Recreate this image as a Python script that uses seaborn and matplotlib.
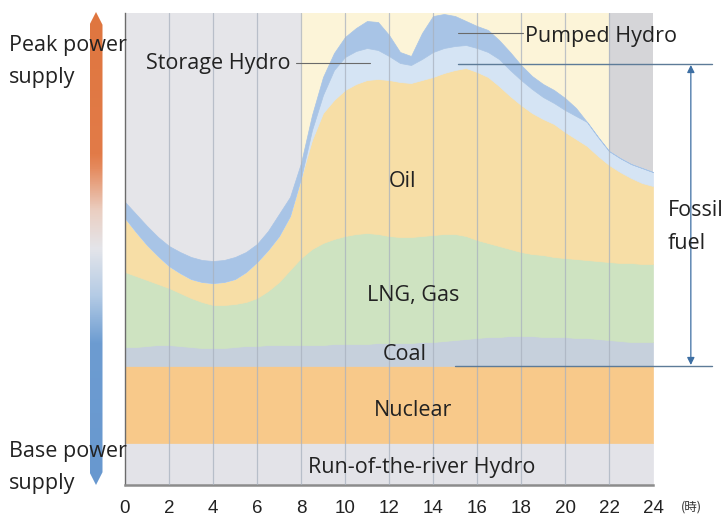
import numpy as np
import matplotlib
matplotlib.use("Agg")
import matplotlib.pyplot as plt
import seaborn as sns
from matplotlib.colors import LinearSegmentedColormap
from matplotlib.patches import Polygon

# ---------------- data (arbitrary output units, half-hour steps) ----------------
hours = np.arange(0, 24.01, 0.5)

run_of_river = [42, 42, 42, 42, 42, 42, 42, 42, 42, 42, 42, 42, 42, 42, 42, 42, 42,
                42, 42, 42, 42, 42, 42, 42, 42, 42, 42, 42, 42, 42, 42, 42, 42, 42,
                42, 42, 42, 42, 42, 42, 42, 42, 42, 42, 42, 42, 42, 42, 42]
nuclear = [77, 77, 77, 77, 77, 77, 77, 77, 77, 77, 77, 77, 77, 77, 77, 77, 77,
           77, 77, 77, 77, 77, 77, 77, 77, 77, 77, 77, 77, 77, 77, 77, 77, 77,
           77, 77, 77, 77, 77, 77, 77, 77, 77, 77, 77, 77, 77, 77, 77]
coal = [19, 19, 20, 21, 21, 20, 19, 18, 18, 18, 19, 20, 20, 21, 21, 21, 21,
        21, 21, 22, 22, 22, 22, 23, 23, 23, 23, 24, 24, 25, 26, 27, 28, 29,
        29, 30, 30, 30, 29, 29, 29, 28, 28, 27, 26, 25, 24, 24, 24]
lng_gas = [75, 71, 66, 61, 57, 53, 49, 46, 43, 43, 43, 44, 48, 54, 63, 75, 87,
           96, 102, 105, 108, 110, 111, 109, 107, 106, 106, 106, 107, 107, 106, 103, 98, 94,
           91, 87, 84, 82, 82, 80, 79, 79, 78, 78, 78, 78, 79, 78, 78]
oil = [54, 44, 35, 28, 22, 20, 19, 20, 22, 23, 25, 30, 36, 41, 46, 54, 80,
       109, 130, 139, 146, 150, 153, 155, 156, 155, 154, 156, 158, 161, 164, 168, 168, 166,
       160, 153, 147, 141, 136, 133, 126, 120, 114, 105, 97, 91, 85, 81, 78]
storage_hydro = [0, 0, 0, 0, 0, 0, 0, 0, 0, 0, 0, 0, 0, 0, 0, 0, 0,
                 10, 18, 30, 33, 33, 32, 29, 24, 19, 18, 21, 25, 25, 24, 23, 24, 25,
                 27, 26, 25, 24, 22, 21, 22, 23, 24, 19, 14, 14, 14, 15, 14]
pumped_hydro = [16, 18, 19, 19, 20, 21, 22, 22, 22, 22, 22, 20, 18, 19, 22, 19, 15,
                15, 18, 17, 20, 23, 27, 28, 21, 11, 9, 26, 36, 34, 30, 24, 22, 22,
                19, 18, 15, 13, 13, 13, 12, 8, 0, 0, 0, 0, 0, 0, 0]

layer_values = [run_of_river, nuclear, coal, lng_gas, oil, storage_hydro, pumped_hydro]
layer_colors = ["#e3e3e8", "#f8c98a", "#c6d0dc", "#cee3c1", "#f7dea6", "#d5e4f4", "#a8c4e6"]
tick_hours = list(range(0, 25, 2))

# ---------------- style ----------------
sns.set_theme(style="white")
plt.rcParams["font.family"] = ["Open Sans", "DejaVu Sans"]
TXT = "#222222"

fig = plt.figure(figsize=(7.26, 5.21), dpi=100)
W, H = 726, 521
ax = fig.add_axes([125 / W, 36 / H, 528 / W, 472 / H])
ax.set_xlim(0, 24)
ax.set_ylim(0, 472)

# time-of-day background bands
ax.axvspan(0, 8, color="#e5e5e9", lw=0, zorder=0)
ax.axvspan(8, 22, color="#fcf4d8", lw=0, zorder=0)
ax.axvspan(22, 24, color="#d5d5d8", lw=0, zorder=0)

# stacked layers
lower = np.zeros(len(hours))
for vals, col in zip(layer_values, layer_colors):
    upper = lower + np.array(vals, dtype=float)
    ax.fill_between(hours, lower, upper, facecolor=col, edgecolor=col, lw=0.5, zorder=1)
    lower = upper

# vertical grid lines
for h in tick_hours[1:-1]:
    ax.axvline(h, color="#a9b2bf", lw=0.9, alpha=0.75, zorder=3)

# spines / ticks
for s in ["top", "right"]:
    ax.spines[s].set_visible(False)
ax.spines["left"].set_color("#6b6b6b")
ax.spines["left"].set_linewidth(1.0)
ax.spines["bottom"].set_color("#8c8c8c")
ax.spines["bottom"].set_linewidth(1.8)
ax.set_yticks([])
ax.set_xticks(tick_hours)
ax.set_xticklabels([str(t) for t in tick_hours], fontfamily="Liberation Sans")
ax.tick_params(axis="x", length=0, pad=11, labelsize=13.5, labelcolor=TXT)

# layer labels
fs = 15.5
ax.text(12.6, 303, "Oil", ha="center", va="center", fontsize=fs, color=TXT, zorder=5)
ax.text(13.1, 190, "LNG, Gas", ha="center", va="center", fontsize=fs, color=TXT, zorder=5)
ax.text(12.7, 130, "Coal", ha="center", va="center", fontsize=fs, color=TXT, zorder=5)
ax.text(13.1, 74, "Nuclear", ha="center", va="center", fontsize=fs, color=TXT, zorder=5)
ax.text(13.5, 18, "Run-of-the-river Hydro", ha="center", va="center", fontsize=fs, color=TXT, zorder=5)

ax.text(7.5, 421, "Storage Hydro", ha="right", va="center", fontsize=fs, color=TXT, zorder=5)
ax.plot([7.75, 11.15], [422, 422], color="#6a6a6a", lw=0.8, zorder=5)
ax.text(18.2, 448, "Pumped Hydro", ha="left", va="center", fontsize=fs, color=TXT, zorder=5,
        clip_on=False)
ax.plot([15.15, 18.1], [452, 452], color="#6a6a6a", lw=0.8, zorder=5)

# fossil fuel bracket
ax.plot([15.15, 26.7], [421, 421], color="#5d7b98", lw=1.0, zorder=5, clip_on=False)
ax.plot([15.0, 26.7], [119, 119], color="#5d7b98", lw=1.0, zorder=5, clip_on=False)
ax.annotate("", xy=(25.72, 120), xytext=(25.72, 420),
            arrowprops=dict(arrowstyle="<|-|>", color="#3d6fa3", lw=0.9, mutation_scale=11,
                            shrinkA=0, shrinkB=0),
            annotation_clip=False, zorder=5)
fig.text(668 / W, 1 - 210 / H, "Fossil", ha="left", va="center", fontsize=fs, color=TXT)
fig.text(668 / W, 1 - 243 / H, "fuel", ha="left", va="center", fontsize=fs, color=TXT)

# unit label
fig.text(691 / W, 1 - 507 / H, "(時)", ha="center", va="center", fontsize=9, color="#333333",
         family=["Noto Sans CJK JP", "DejaVu Sans"])

# left side peak/base labels
fig.text(9 / W, 1 - 45 / H, "Peak power", ha="left", va="center", fontsize=fs, color=TXT)
fig.text(9 / W, 1 - 77 / H, "supply", ha="left", va="center", fontsize=fs, color=TXT)
fig.text(9 / W, 1 - 452 / H, "Base power", ha="left", va="center", fontsize=fs, color=TXT)
fig.text(9 / W, 1 - 484 / H, "supply", ha="left", va="center", fontsize=fs, color=TXT)

# gradient double arrow bar
bar_ax = fig.add_axes([89.5 / W, 36 / H, 13 / W, 473 / H])
bar_ax.axis("off")
bar_ax.set_xlim(0, 1)
bar_ax.set_ylim(0, 1)
cmap = LinearSegmentedColormap.from_list(
    "peakbase",
    [(0.0, "#6898cf"), (0.30, "#6d9cd1"), (0.40, "#b4cbe5"), (0.50, "#e4e5ea"),
     (0.58, "#ebcfc2"), (0.67, "#e58b5f"), (0.70, "#e27b48"), (1.0, "#df763f")])
grad = np.linspace(0, 1, 256).reshape(-1, 1)
im = bar_ax.imshow(grad, cmap=cmap, origin="lower", extent=(0, 1, 0, 1), aspect="auto")
tip = 0.027
shape = Polygon([(0, tip), (0.5, 0), (1, tip), (1, 1 - tip), (0.5, 1), (0, 1 - tip)],
                closed=True, transform=bar_ax.transAxes, facecolor="none", edgecolor="none")
bar_ax.add_patch(shape)
im.set_clip_path(shape)

fig.savefig("out.png", dpi=100)
